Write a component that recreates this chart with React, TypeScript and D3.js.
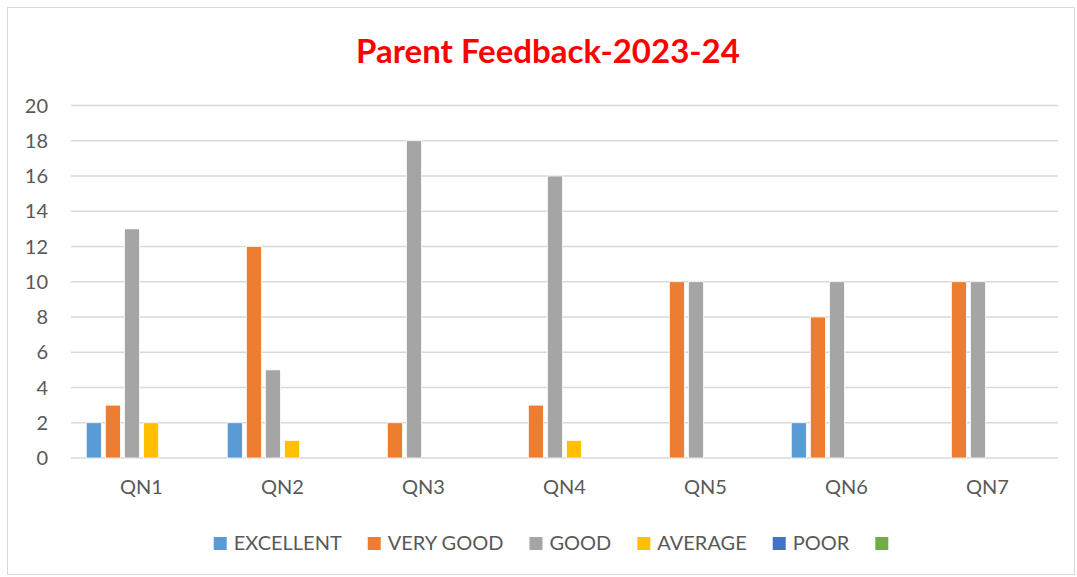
import React, { useEffect, useRef } from "react";
import * as d3 from "d3";

const WIDTH = 1077;
const HEIGHT = 577;

const categories = ["QN1", "QN2", "QN3", "QN4", "QN5", "QN6", "QN7"];
const seriesNames = ["EXCELLENT", "VERY GOOD", "GOOD", "AVERAGE", "POOR", ""];
const seriesColors = ["#5B9BD5", "#ED7D31", "#A5A5A5", "#FFC000", "#4472C4", "#70AD47"];

const excellent = [2, 2, 0, 0, 0, 2, 0];
const veryGood = [3, 12, 2, 3, 10, 8, 10];
const good = [13, 5, 18, 16, 10, 10, 10];
const average = [2, 1, 0, 1, 0, 0, 0];
const poor = [0, 0, 0, 0, 0, 0, 0];
const other = [0, 0, 0, 0, 0, 0, 0];

const yTicks = [0, 2, 4, 6, 8, 10, 12, 14, 16, 18, 20];

const FONT = "Lato, 'Open Sans', sans-serif";
const TEXT = "#595959";

const App: React.FC = () => {
  const ref = useRef<SVGSVGElement | null>(null);

  useEffect(() => {
    if (!ref.current) return;
    const svg = d3.select(ref.current);
    svg.selectAll("*").remove();

    const allSeries = [excellent, veryGood, good, average, poor, other];

    // cadre du graphique
    svg
      .append("rect")
      .attr("x", 7.5)
      .attr("y", 7.5)
      .attr("width", 1067)
      .attr("height", 567)
      .attr("fill", "#fff")
      .attr("stroke", "#D9D9D9");

    svg
      .append("text")
      .attr("x", 548)
      .attr("y", 63)
      .attr("text-anchor", "middle")
      .attr("font-family", FONT)
      .attr("font-weight", "bold")
      .attr("font-size", 33)
      .attr("fill", "#FF0000")
      .text("Parent Feedback-2023-24");

    const x0 = d3.scaleBand<string>().domain(categories).range([71, 1058]);
    const x1 = d3
      .scaleBand<number>()
      .domain(d3.range(seriesNames.length))
      .range([0, x0.bandwidth()])
      .paddingInner(0.21)
      .paddingOuter(0.8);
    const y = d3.scaleLinear().domain([0, 20]).range([458, 105.5]);

    // grille
    svg
      .append("g")
      .selectAll("line")
      .data(yTicks)
      .enter()
      .append("line")
      .attr("x1", 71)
      .attr("x2", 1058)
      .attr("y1", (d) => y(d))
      .attr("y2", (d) => y(d))
      .attr("stroke", "#D9D9D9")
      .attr("stroke-width", 1.5);

    svg
      .append("g")
      .selectAll("text")
      .data(yTicks)
      .enter()
      .append("text")
      .attr("x", 48)
      .attr("y", (d) => y(d))
      .attr("dy", "0.35em")
      .attr("text-anchor", "end")
      .attr("font-family", FONT)
      .attr("font-size", 20)
      .attr("fill", TEXT)
      .text((d) => d);

    // barres
    const groups = svg
      .append("g")
      .selectAll("g")
      .data(categories)
      .enter()
      .append("g")
      .attr("transform", (c) => `translate(${x0(c)},0)`);

    groups
      .selectAll("rect")
      .data((_, ci) => allSeries.map((s, si) => ({ si, v: s[ci] })))
      .enter()
      .filter((d) => d.v > 0)
      .append("rect")
      .attr("x", (d) => x1(d.si) || 0)
      .attr("width", x1.bandwidth())
      .attr("y", (d) => y(d.v))
      .attr("height", (d) => y(0) - y(d.v))
      .attr("fill", (d) => seriesColors[d.si])
      .attr("stroke", "#fff")
      .attr("stroke-width", 0.75);

    svg
      .append("g")
      .selectAll("text")
      .data(categories)
      .enter()
      .append("text")
      .attr("x", (c) => (x0(c) || 0) + x0.bandwidth() / 2)
      .attr("y", 494)
      .attr("text-anchor", "middle")
      .attr("font-family", FONT)
      .attr("font-size", 20)
      .attr("fill", TEXT)
      .text((c) => c);

    // légende
    const legend = svg.append("g");
    let cx = 0;
    seriesNames.forEach((name, i) => {
      const item = legend.append("g").attr("transform", `translate(${cx},0)`);
      item
        .append("rect")
        .attr("x", 0)
        .attr("y", 537)
        .attr("width", 13)
        .attr("height", 13)
        .attr("fill", seriesColors[i]);
      const t = item
        .append("text")
        .attr("x", 20)
        .attr("y", 550)
        .attr("font-family", FONT)
        .attr("font-size", 20)
        .attr("fill", TEXT)
        .text(name);
      const w = (t.node() as SVGTextElement).getComputedTextLength();
      cx += 20 + w + 26;
    });
    const total = cx - 26 - 7;
    legend.attr("transform", `translate(${551 - total / 2},0)`);
  }, []);

  return (
    <svg
      ref={ref}
      width={WIDTH}
      height={HEIGHT}
      style={{ position: "absolute", left: 0, top: 0 }}
    />
  );
};

export default App;
